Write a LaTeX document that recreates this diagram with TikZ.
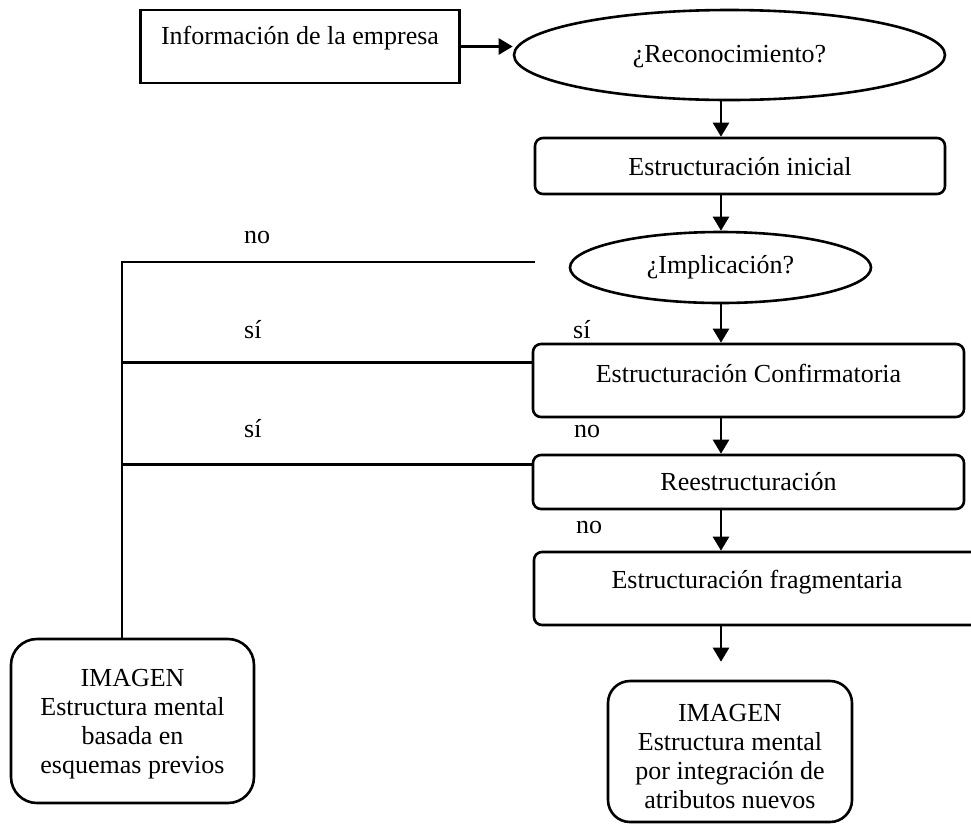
\documentclass[tikz,border=0pt]{standalone}
\usepackage{fontspec}
\setmainfont{Liberation Serif}
\usetikzlibrary{shapes.geometric,arrows.meta}
\begin{document}
\begin{tikzpicture}[x=1pt,y=-1pt,
  every node/.style={font=\fontsize{26pt}{29pt}\selectfont},
  base/.style={draw, line width=2.6pt, inner sep=0pt, text height=18pt},
  plainbox/.style={base, rectangle},
  roundbox/.style={base, rectangle, rounded corners=8pt},
  imgbox/.style={draw, line width=2.6pt, inner sep=0pt, rectangle},
  decision/.style={base, ellipse},
  arr/.style={line width=2.6pt, -{Triangle[length=14pt,width=16pt]}},
  link/.style={line width=2.6pt},
  tag/.style={anchor=base west, inner sep=0pt}
]
\useasboundingbox (0,0) rectangle (971,823);

% main column
\node[plainbox, minimum width=319pt, minimum height=73pt, text depth=22pt] (info) at (300,46.5) {Información de la empresa};
\node[decision, minimum width=431pt, minimum height=90pt, text depth=4pt] (recon) at (729.5,55) {¿Reconocimiento?};
\node[roundbox, minimum width=410pt, minimum height=56pt, text depth=0pt] (init) at (740,166) {Estructuración inicial};
\node[decision, minimum width=301pt, minimum height=71pt, text depth=7pt] (impl) at (720.5,267.5) {¿Implicación?};
\node[roundbox, minimum width=431pt, minimum height=73pt, text depth=15pt] (conf) at (748.5,380.5) {Estructuración Confirmatoria};
\node[roundbox, minimum width=431pt, minimum height=54pt, text depth=2pt] (reest) at (748.5,482) {Reestructuración};
\node[roundbox, minimum width=446pt, minimum height=73pt, text depth=19pt] (frag) at (757,588.5) {Estructuración fragmentaria};

% resulting images
\node[imgbox, minimum width=243pt, minimum height=164pt, rounded corners=26pt] (imgL) at (132.5,721)
  {\raisebox{-3.3pt}[\height][\depth]{\begin{tabular}{@{}c@{}}IMAGEN\\Estructura mental\\basada en\\esquemas previos\end{tabular}}};
\node[imgbox, minimum width=244pt, minimum height=141pt, rounded corners=22pt] (imgR) at (730,751.5)
  {\raisebox{-7.2pt}[\height][\depth]{\begin{tabular}{@{}c@{}}IMAGEN\\Estructura mental\\por integración de\\atributos nuevos\end{tabular}}};

% guide coordinates
\coordinate (axis) at (721,0);
\coordinate (spine) at (122,0);
\coordinate (noend) at (535,262);

% flow arrows
\draw[arr] (info.east) -- (info.east -| recon.west);
\draw[arr] (recon.south -| axis) -- (init.north -| axis);
\draw[arr] (init.south -| axis) -- (impl.north -| axis);
\draw[arr] (impl.south -| axis) -- (conf.north -| axis);
\draw[arr] (conf.south -| axis) -- (reest.north -| axis);
\draw[arr] (reest.south -| axis) -- (frag.north -| axis);
\draw[arr, shorten >=18pt] (frag.south -| axis) -- (imgR.north -| axis);

% branch to the left image
\draw[link] (noend) -- (noend -| spine) -- (imgL.north -| spine);
\draw[link] ([yshift=18pt]conf.west) coordinate (c1) -- (c1 -| spine);
\draw[link, line width=3.8pt] ([yshift=17.5pt]reest.west) coordinate (c2) -- (c2 -| spine);

% answer labels
\node[tag] (lno1) at (244,243) {no};
\node[tag] (lsi1) at (244,338) {sí};
\node[tag] (lsi2) at (244,437) {sí};
\node[tag] (rsi) at (573,338) {sí};
\node[tag] (rno1) at (574,437) {no};
\node[tag] (rno2) at (576,533) {no};
\end{tikzpicture}
\end{document}
